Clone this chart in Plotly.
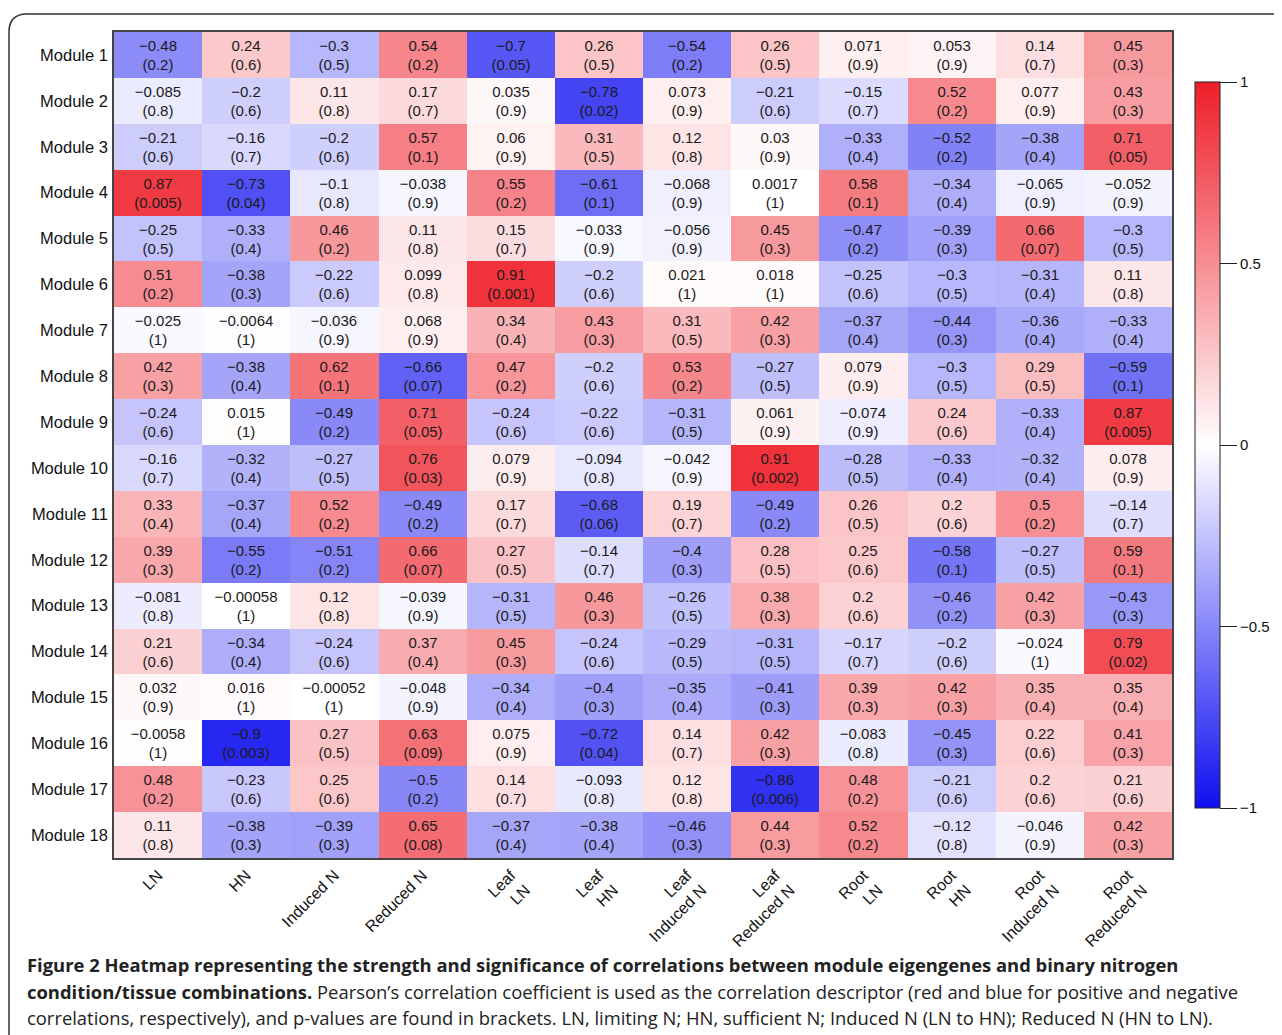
import plotly.graph_objects as go

modules = [f"Module {i}" for i in range(1, 19)]
conditions = ["LN", "HN", "Induced N", "Reduced N", "Leaf<br>LN", "Leaf<br>HN",
              "Leaf<br>Induced N", "Leaf<br>Reduced N", "Root<br>LN", "Root<br>HN",
              "Root<br>Induced N", "Root<br>Reduced N"]

r_values = [
    [-0.48, 0.24, -0.3, 0.54, -0.7, 0.26, -0.54, 0.26, 0.071, 0.053, 0.14, 0.45],
    [-0.085, -0.2, 0.11, 0.17, 0.035, -0.78, 0.073, -0.21, -0.15, 0.52, 0.077, 0.43],
    [-0.21, -0.16, -0.2, 0.57, 0.06, 0.31, 0.12, 0.03, -0.33, -0.52, -0.38, 0.71],
    [0.87, -0.73, -0.1, -0.038, 0.55, -0.61, -0.068, 0.0017, 0.58, -0.34, -0.065, -0.052],
    [-0.25, -0.33, 0.46, 0.11, 0.15, -0.033, -0.056, 0.45, -0.47, -0.39, 0.66, -0.3],
    [0.51, -0.38, -0.22, 0.099, 0.91, -0.2, 0.021, 0.018, -0.25, -0.3, -0.31, 0.11],
    [-0.025, -0.0064, -0.036, 0.068, 0.34, 0.43, 0.31, 0.42, -0.37, -0.44, -0.36, -0.33],
    [0.42, -0.38, 0.62, -0.66, 0.47, -0.2, 0.53, -0.27, 0.079, -0.3, 0.29, -0.59],
    [-0.24, 0.015, -0.49, 0.71, -0.24, -0.22, -0.31, 0.061, -0.074, 0.24, -0.33, 0.87],
    [-0.16, -0.32, -0.27, 0.76, 0.079, -0.094, -0.042, 0.91, -0.28, -0.33, -0.32, 0.078],
    [0.33, -0.37, 0.52, -0.49, 0.17, -0.68, 0.19, -0.49, 0.26, 0.2, 0.5, -0.14],
    [0.39, -0.55, -0.51, 0.66, 0.27, -0.14, -0.4, 0.28, 0.25, -0.58, -0.27, 0.59],
    [-0.081, -0.00058, 0.12, -0.039, -0.31, 0.46, -0.26, 0.38, 0.2, -0.46, 0.42, -0.43],
    [0.21, -0.34, -0.24, 0.37, 0.45, -0.24, -0.29, -0.31, -0.17, -0.2, -0.024, 0.79],
    [0.032, 0.016, -0.00052, -0.048, -0.34, -0.4, -0.35, -0.41, 0.39, 0.42, 0.35, 0.35],
    [-0.0058, -0.9, 0.27, 0.63, 0.075, -0.72, 0.14, 0.42, -0.083, -0.45, 0.22, 0.41],
    [0.48, -0.23, 0.25, -0.5, 0.14, -0.093, 0.12, -0.86, 0.48, -0.21, 0.2, 0.21],
    [0.11, -0.38, -0.39, 0.65, -0.37, -0.38, -0.46, 0.44, 0.52, -0.12, -0.046, 0.42],
]

p_values = [
    [0.2, 0.6, 0.5, 0.2, 0.05, 0.5, 0.2, 0.5, 0.9, 0.9, 0.7, 0.3],
    [0.8, 0.6, 0.8, 0.7, 0.9, 0.02, 0.9, 0.6, 0.7, 0.2, 0.9, 0.3],
    [0.6, 0.7, 0.6, 0.1, 0.9, 0.5, 0.8, 0.9, 0.4, 0.2, 0.4, 0.05],
    [0.005, 0.04, 0.8, 0.9, 0.2, 0.1, 0.9, 1, 0.1, 0.4, 0.9, 0.9],
    [0.5, 0.4, 0.2, 0.8, 0.7, 0.9, 0.9, 0.3, 0.2, 0.3, 0.07, 0.5],
    [0.2, 0.3, 0.6, 0.8, 0.001, 0.6, 1, 1, 0.6, 0.5, 0.4, 0.8],
    [1, 1, 0.9, 0.9, 0.4, 0.3, 0.5, 0.3, 0.4, 0.3, 0.4, 0.4],
    [0.3, 0.4, 0.1, 0.07, 0.2, 0.6, 0.2, 0.5, 0.9, 0.5, 0.5, 0.1],
    [0.6, 1, 0.2, 0.05, 0.6, 0.6, 0.5, 0.9, 0.9, 0.6, 0.4, 0.005],
    [0.7, 0.4, 0.5, 0.03, 0.9, 0.8, 0.9, 0.002, 0.5, 0.4, 0.4, 0.9],
    [0.4, 0.4, 0.2, 0.2, 0.7, 0.06, 0.7, 0.2, 0.5, 0.6, 0.2, 0.7],
    [0.3, 0.2, 0.2, 0.07, 0.5, 0.7, 0.3, 0.5, 0.6, 0.1, 0.5, 0.1],
    [0.8, 1, 0.8, 0.9, 0.5, 0.3, 0.5, 0.3, 0.6, 0.2, 0.3, 0.3],
    [0.6, 0.4, 0.6, 0.4, 0.3, 0.6, 0.5, 0.5, 0.7, 0.6, 1, 0.02],
    [0.9, 1, 1, 0.9, 0.4, 0.3, 0.4, 0.3, 0.3, 0.3, 0.4, 0.4],
    [1, 0.003, 0.5, 0.09, 0.9, 0.04, 0.7, 0.3, 0.8, 0.3, 0.6, 0.3],
    [0.2, 0.6, 0.6, 0.2, 0.7, 0.8, 0.8, 0.006, 0.2, 0.6, 0.6, 0.6],
    [0.8, 0.3, 0.3, 0.08, 0.4, 0.4, 0.3, 0.3, 0.2, 0.8, 0.9, 0.3],
]

colorbar_ticks = [-1, -0.5, 0, 0.5, 1]
colorbar_ticktext = ["\u22121", "\u22120.5", "0", "0.5", "1"]

caption_lines = [
    "<b>Figure 2 Heatmap representing the strength and significance of correlations between module eigengenes and binary nitrogen</b>",
    "<b>condition/tissue combinations.</b> Pearson\u2019s correlation coefficient is used as the correlation descriptor (red and blue for positive and negative",
    "correlations, respectively), and p-values are found in brackets. LN, limiting N; HN, sufficient N; Induced N (LN to HN); Reduced N (HN to LN).",
]


def fmt(v):
    return f"{v:g}".replace("-", "\u2212")


cell_text = [[f"{fmt(r)}<br>({fmt(p)})" for r, p in zip(rr, pp)]
             for rr, pp in zip(r_values, p_values)]

# page body has an 8px margin: figure occupies window pixels 8..8+W
OFF = 8
W, H = 1282 - OFF, 1035 - OFF


def px(x):
    return (x - OFF) / W


def py(y):
    return 1 - (y - OFF) / H


colorscale = [
    [0.0, "rgb(15,15,240)"],
    [0.5, "rgb(255,255,255)"],
    [1.0, "rgb(238,30,40)"],
]

FONT = "Liberation Sans, Arial, sans-serif"

fig = go.Figure(go.Heatmap(
    z=r_values,
    x=conditions,
    y=modules,
    text=cell_text,
    texttemplate="%{text}",
    textfont=dict(family=FONT, size=15, color="#1a1a1a"),
    colorscale=colorscale,
    zmin=-1, zmax=1,
    xgap=0, ygap=0,
    hoverinfo="skip",
    colorbar=dict(
        thickness=25,
        thicknessmode="pixels",
        len=726,
        lenmode="pixels",
        x=px(1195),
        xanchor="left",
        xpad=0,
        y=py(445),
        yanchor="middle",
        ypad=0,
        outlinewidth=1,
        outlinecolor="#222",
        tickvals=colorbar_ticks,
        ticktext=colorbar_ticktext,
        ticks="outside",
        ticklen=17,
        tickcolor="#222",
        tickwidth=1,
        tickfont=dict(family=FONT, size=15, color="#111"),
    ),
))

fig.update_xaxes(
    domain=[px(114), px(1172)],
    tickangle=-45,
    tickfont=dict(family=FONT, size=16, color="#111"),
    showgrid=False, zeroline=False,
    showline=True, mirror=True, linecolor="#444", linewidth=1.5,
    ticks="",
    side="bottom",
)
fig.update_yaxes(
    domain=[py(858), py(32)],
    autorange="reversed",
    tickfont=dict(family=FONT, size=16.5, color="#111"),
    showgrid=False, zeroline=False,
    showline=True, mirror=True, linecolor="#444", linewidth=1.5,
    ticks="",
    ticklabelstandoff=1,
)

# rounded frame around figure
x0, y0, r = 9, 14, 18
path = (f"M {px(x0)},{py(1045)} L {px(x0)},{py(y0 + r)} "
        f"Q {px(x0)},{py(y0)} {px(x0 + r)},{py(y0)} L {px(1300)},{py(y0)}")
fig.add_shape(type="path", path=path, xref="paper", yref="paper",
              line=dict(color="#333", width=1.5))

caption_y = [964, 991, 1017]
for line, yy in zip(caption_lines, caption_y):
    fig.add_annotation(
        text=line, x=px(25), y=py(yy), xref="paper", yref="paper",
        xanchor="left", yanchor="middle", showarrow=False,
        font=dict(family="Open Sans, sans-serif", size=18.4, color="#222"),
    )

fig.update_layout(
    width=W, height=H,
    margin=dict(l=0, r=0, t=0, b=0),
    paper_bgcolor="white",
    plot_bgcolor="white",
    showlegend=False,
)

fig.write_html("out.html")
